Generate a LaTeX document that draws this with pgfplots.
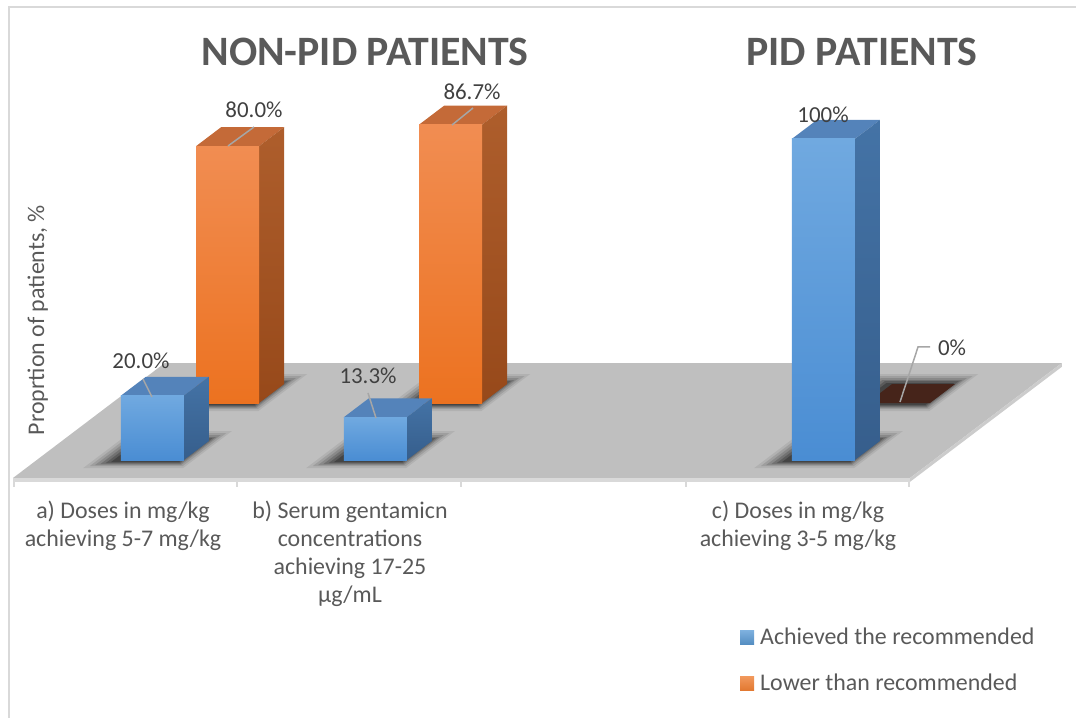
\documentclass[border=0pt]{standalone}
\usepackage{fontspec}
\setmainfont{Carlito}
\usepackage{pgfplots}
\pgfplotsset{compat=1.18}
\definecolor{txt}{HTML}{595959}
\definecolor{lbl}{HTML}{404040}
\definecolor{floorc}{HTML}{BFBFBF}
\definecolor{floorb}{HTML}{D9D9D9}
\definecolor{leader}{HTML}{A6A6A6}
\definecolor{bluefa}{HTML}{70A9E0}
\definecolor{bluefb}{HTML}{4A8DD3}
\definecolor{bluetop}{HTML}{5483BA}
\definecolor{blueside}{HTML}{4473A6}
\definecolor{bluesideb}{HTML}{365E8C}
\definecolor{orfa}{HTML}{F18D52}
\definecolor{orfb}{HTML}{EC7220}
\definecolor{ortop}{HTML}{C46A38}
\definecolor{orside}{HTML}{AE5E2C}
\definecolor{orsideb}{HTML}{97491A}
\definecolor{zerobrown}{HTML}{46241A}
\definecolor{legblue}{HTML}{5B9BD5}
\definecolor{legor}{HTML}{ED7D31}

% #1 x0, #2 x1, #3 d0, #4 d1, #5 value, #6 colour prefix
\newcommand{\drawbar}[6]{%
  \addplot3[draw=none, fill=#6top] coordinates {(#1,#3,#5) (#2,#3,#5) (#2,#4,#5) (#1,#4,#5)};
  \addplot3[draw=none, top color=#6side, bottom color=#6sideb] coordinates {(#2,#3,0) (#2,#4,0) (#2,#4,#5) (#2,#3,#5)};
  \addplot3[draw=none, top color=#6fa, bottom color=#6fb] coordinates {(#1,#3,0) (#2,#3,0) (#2,#3,#5) (#1,#3,#5)};
}
% one layer of the soft shadow: #1 x0, #2 x1, #3 d0, #4 d1, #5 grow left, #6 grow right, #7 grow front, #8 grow back, #9 opacity
\newcommand{\shadowlayer}[9]{%
  \pgfmathsetmacro\sxa{#1-#5}\pgfmathsetmacro\sxb{#2+#6}\pgfmathsetmacro\sda{#3-#7}\pgfmathsetmacro\sdb{#4+#8}%
  \addplot3[draw=none, fill=black, fill opacity=#9] coordinates {(\sxa,\sda,0) (\sxb,\sda,0) (\sxb,\sdb,0) (\sxa,\sdb,0)};
}
\newcommand{\drawshadow}[4]{%
  \shadowlayer{#1}{#2}{#3}{#4}{27}{10}{8}{10}{0.07}%
  \shadowlayer{#1}{#2}{#3}{#4}{23}{7}{6}{8}{0.1}%
  \shadowlayer{#1}{#2}{#3}{#4}{19}{4}{5}{6}{0.13}%
  \shadowlayer{#1}{#2}{#3}{#4}{15}{2}{4}{4}{0.16}%
  \shadowlayer{#1}{#2}{#3}{#4}{11}{0}{3}{3}{0.2}%
  \shadowlayer{#1}{#2}{#3}{#4}{7}{-2}{2}{1}{0.25}%
}

\begin{document}
\begin{tikzpicture}
\begin{axis}[
  x={(1bp,0bp)}, y={(1.32bp,1bp)}, z={(0bp,3.21bp)},
  xmin=13, xmax=910, ymin=0, ymax=115, zmin=-3, zmax=105,
  hide axis, clip=false,
]
\coordinate (O) at (axis cs:0,0,0);
% floor
\addplot3[draw=none, fill=floorc] coordinates {(13,0,0) (910,0,0) (910,115,0) (13,115,0)};
\addplot3[draw=none, fill=floorb] coordinates {(13,0,-1.2) (910,0,-1.2) (910,0,0) (13,0,0)};
\addplot3[draw=none, fill=floorb!85!gray] coordinates {(910,0,-1.2) (910,115,-1.2) (910,115,0) (910,0,0)};
% category ticks
\addplot3[draw=floorb, line width=1.5bp] coordinates {(14,0,-1.2) (14,0,-2.9)};
\addplot3[draw=floorb, line width=1.5bp] coordinates {(237,0,-1.2) (237,0,-2.9)};
\addplot3[draw=floorb, line width=1.5bp] coordinates {(461,0,-1.2) (461,0,-2.9)};
\addplot3[draw=floorb, line width=1.5bp] coordinates {(686,0,-1.2) (686,0,-2.9)};
\addplot3[draw=floorb, line width=1.5bp] coordinates {(909,0,-1.2) (909,0,-2.9)};
% shadows
\drawshadow{97}{160}{75}{94}
\drawshadow{320}{383}{75}{94}
\drawshadow{768}{831}{75}{94}
\drawshadow{97}{160}{18}{37}
\drawshadow{320}{383}{18}{37}
\drawshadow{768}{831}{18}{37}
% Lower than recommended (back row): 80.0, 86.7, 0
\drawbar{97}{160}{75}{94}{80.0}{or}
\drawbar{320}{383}{75}{94}{86.7}{or}
\addplot3[draw=none, fill=zerobrown] coordinates {(768,75,0) (831,75,0) (831,94,0) (768,94,0)};
% Achieved the recommended (front row): 20.0, 13.3, 100
\drawbar{97}{160}{18}{37}{20.0}{blue}
\drawbar{320}{383}{18}{37}{13.3}{blue}
\drawbar{768}{831}{18}{37}{100}{blue}
\end{axis}

\begin{scope}[shift={(O)}, yshift=478bp, x=1bp, y=-1bp]
  \coordinate (TL) at (0,0);
  \coordinate (BR) at (1076,718);
  % chart border
  \draw[floorb, line width=1.6bp] (9,718) -- (9,7) -- (1076,7);
  % titles
  \node[anchor=base, inner sep=0, text=txt, font=\fontsize{42}{46}\selectfont\bfseries] at (365,66) {NON-PID PATIENTS};
  \node[anchor=base, inner sep=0, text=txt, font=\fontsize{42}{46}\selectfont\bfseries] at (862,66) {PID PATIENTS};
  % axis title
  \node[anchor=base, rotate=90, inner sep=0, text=txt, font=\fontsize{24}{28}\selectfont] at (44,320) {Proprtion of patients, \%};
  % leader lines
  \begin{scope}[leader, line width=1.5bp]
    \draw (143,379) -- (152,397);
    \draw (254,127) -- (228,146);
    \draw (368,393) -- (376,418);
    \draw (473,108) -- (452,125);
    \draw (900,402) -- (918,347) -- (930,347);
  \end{scope}
  % data labels
  \begin{scope}[every node/.style={inner sep=0, text=lbl, font=\fontsize{23}{26}\selectfont}]
    \node at (141,361) {20.0\%};
    \node at (254,110) {80.0\%};
    \node at (368,376) {13.3\%};
    \node at (472,92) {86.7\%};
    \node at (823,115) {100\%};
    \node at (952,348) {0\%};
  \end{scope}
  % category labels
  \begin{scope}[every node/.style={anchor=base, inner sep=0, text=txt, font=\fontsize{24}{28}\selectfont}]
    \node at (123,519) {a) Doses in mg/kg};
    \node at (123,547) {achieving 5-7 mg/kg};
    \node at (350,519) {b) Serum gentamicn};
    \node at (350,547) {concentrations};
    \node at (350,575) {achieving 17-25};
    \node at (350,603) {µg/mL};
    \node at (798,519) {c) Doses in mg/kg};
    \node at (798,547) {achieving 3-5 mg/kg};
  \end{scope}
  % legend
  \fill[top color=legblue!80!white, bottom color=legblue!90!black] (740,631) rectangle (754,645);
  \fill[top color=legor!80!white, bottom color=legor!95!black] (740,677) rectangle (754,691);
  \node[anchor=base west, inner sep=0, text=txt, font=\fontsize{24}{28}\selectfont] at (760,645) {Achieved the recommended};
  \node[anchor=base west, inner sep=0, text=txt, font=\fontsize{24}{28}\selectfont] at (760,691) {Lower than recommended};
\end{scope}
\pgfresetboundingbox
\path[use as bounding box] (TL) rectangle (BR);
\end{tikzpicture}
\end{document}
